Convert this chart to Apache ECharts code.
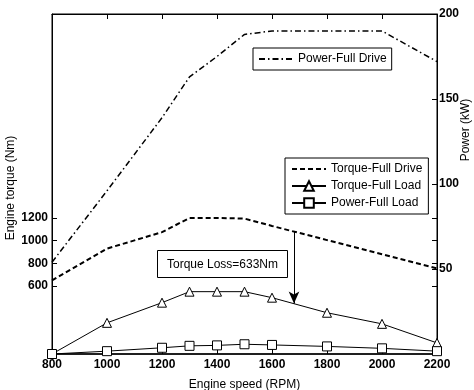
<!DOCTYPE html>
<html>
<head>
<meta charset="utf-8">
<script src="https://cdn.jsdelivr.net/npm/echarts@6/dist/echarts.min.js"></script>
<style>html,body{margin:0;padding:0;background:#fff}#c{width:474px;height:390px}</style>
</head>
<body>
<div id="c"></div>
<script>
var rpm = [800, 1000, 1200, 1300, 1400, 1500, 1600, 1800, 2000, 2200];
var powerFullDrive = [54, 96, 139, 163, 175, 188, 190, 190, 190, 172];
var torqueFullDrive = [650, 930, 1075, 1200, 1200, 1195, 1130, 1005, 880, 755];
var torqueFullLoad = [0, 275, 453, 550, 550, 550, 497, 364, 266, 98];
var powerFullLoad = [0, 25, 55, 72, 76, 86, 80, 67, 50, 25];
var torqueTicks = [600, 800, 1000, 1200];
var powerTicks = [50, 100, 150, 200];
var lossRpm = 1680, lossTop = 1085, lossBottom = 445;
var lossText = 'Torque Loss=633Nm';

function pairs(v) { return rpm.map(function (x, i) { return [x, v[i]]; }); }
function plain(v) { return String(v); }

var FONT = '"Liberation Sans Narrow", "Liberation Sans", Arial, sans-serif';
var FONT2 = '"Liberation Sans", Arial, sans-serif';
var noSym = { color: 'rgba(0,0,0,0)', borderWidth: 0 };
var chart = echarts.init(document.getElementById('c'));
chart.setOption({
  animation: false,
  backgroundColor: '#fff',
  grid: { left: 52, right: 37, top: 14, bottom: 36, containLabel: false, outerBoundsMode: 'none',
          show: true, borderColor: '#000', borderWidth: 1, backgroundColor: 'rgba(0,0,0,0)' },
  xAxis: [{
    type: 'value', min: 800, max: 2200, interval: 200, position: 'bottom',
    name: 'Engine speed (RPM)', nameLocation: 'middle', nameGap: 25, nameMoveOverlap: false,
    nameTextStyle: { color: '#000', fontSize: 12, fontFamily: FONT2 },
    axisLine: { show: true, onZero: false, lineStyle: { color: '#000', width: 1.5 } },
    axisTick: { show: true, inside: true, length: 5, lineStyle: { color: '#000' } },
    axisLabel: { color: '#000', fontSize: 12, fontFamily: FONT, fontWeight: 'bold', margin: 5, formatter: plain },
    splitLine: { show: false }
  }, {
    type: 'value', min: 800, max: 2200, interval: 200, position: 'top',
    axisLine: { show: true, onZero: false, lineStyle: { color: '#000' } },
    axisTick: { show: true, inside: true, length: 5, lineStyle: { color: '#000' } },
    axisLabel: { show: false }, splitLine: { show: false }
  }],
  yAxis: [{
    type: 'value', min: 0, max: 3000, position: 'left',
    axisLine: { show: true, onZero: false, lineStyle: { color: '#000' } },
    axisTick: { show: true, inside: true, length: 5, customValues: torqueTicks, lineStyle: { color: '#000' } },
    axisLabel: { color: '#000', fontSize: 12, fontFamily: FONT, fontWeight: 'bold', margin: 4, customValues: torqueTicks, formatter: plain },
    splitLine: { show: false }
  }, {
    type: 'value', min: 0, max: 200, interval: 50, position: 'right',
    axisLine: { show: true, onZero: false, lineStyle: { color: '#000' } },
    axisTick: { show: true, inside: true, length: 5, customValues: powerTicks, lineStyle: { color: '#000' } },
    axisLabel: { color: '#000', fontSize: 12, fontFamily: FONT, fontWeight: 'bold', margin: 2, customValues: powerTicks, formatter: plain },
    splitLine: { show: false }
  }, {
    type: 'value', min: 0, max: 3000, position: 'right',
    axisLine: { show: false },
    axisTick: { show: true, inside: true, length: 5, customValues: torqueTicks, lineStyle: { color: '#000' } },
    axisLabel: { show: false }, splitLine: { show: false }
  }],
  legend: [{
    data: [{ name: 'Power-Full Drive', itemStyle: noSym }],
    left: 253, top: 48, orient: 'vertical',
    padding: [5, 5], itemWidth: 34, itemHeight: 12, itemGap: 5,
    borderColor: '#000', borderWidth: 1, backgroundColor: '#fff',
    textStyle: { color: '#000', fontSize: 12, fontFamily: FONT2 }
  }, {
    data: [{ name: 'Torque-Full Drive', itemStyle: noSym }, 'Torque-Full Load', 'Power-Full Load'],
    left: 285, top: 158, orient: 'vertical',
    padding: [5, 6], itemWidth: 34, itemHeight: 12, itemGap: 5,
    borderColor: '#000', borderWidth: 1, backgroundColor: '#fff',
    textStyle: { color: '#000', fontSize: 12, fontFamily: FONT2 }
  }],
  graphic: [{
    type: 'group', left: 157, top: 250,
    children: [{
      type: 'rect', shape: { x: 0, y: 0, width: 130, height: 27 },
      style: { fill: '#fff', stroke: '#000', lineWidth: 1 }
    }, {
      type: 'text', x: 65, y: 14,
      style: { text: lossText, fill: '#000', fontSize: 12, fontFamily: FONT2, align: 'center', verticalAlign: 'middle' }
    }]
  }, {
    type: 'text', x: 466, y: 130, rotation: Math.PI / 2,
    style: { text: 'Power (kW)', fill: '#000', fontSize: 12, fontFamily: FONT2, align: 'center', verticalAlign: 'middle' }
  }, {
    type: 'text', x: 11, y: 188, rotation: Math.PI / 2,
    style: { text: 'Engine torque (Nm)', fill: '#000', fontSize: 12, fontFamily: FONT2, align: 'center', verticalAlign: 'middle' }
  }],
  series: [{
    name: 'Power-Full Drive', type: 'line', xAxisIndex: 1, yAxisIndex: 1, data: pairs(powerFullDrive),
    symbol: 'none', lineStyle: { color: '#000', width: 1.5, type: [6, 3, 1.5, 3] }, itemStyle: { color: '#000' }
  }, {
    name: 'Torque-Full Drive', type: 'line', yAxisIndex: 0, data: pairs(torqueFullDrive),
    symbol: 'none', lineStyle: { color: '#000', width: 2, type: [5, 3] }, itemStyle: { color: '#000' },
    markLine: {
      silent: true, symbol: ['none', 'arrow'], symbolSize: [8, 12],
      lineStyle: { color: '#000', width: 1, type: 'solid' }, label: { show: false },
      data: [[{ coord: [lossRpm, lossTop] }, { coord: [lossRpm, lossBottom] }]]
    }
  }, {
    name: 'Torque-Full Load', type: 'line', yAxisIndex: 0, data: pairs(torqueFullLoad),
    symbol: 'triangle', symbolSize: 9, showAllSymbol: true,
    lineStyle: { color: '#000', width: 1 }, itemStyle: { color: '#fff', borderColor: '#000', borderWidth: 1 }
  }, {
    name: 'Power-Full Load', type: 'line', yAxisIndex: 0, data: pairs(powerFullLoad),
    symbol: 'rect', symbolSize: 9, showAllSymbol: true,
    lineStyle: { color: '#000', width: 1 }, itemStyle: { color: '#fff', borderColor: '#000', borderWidth: 1 }
  }]
});
</script>
</body>
</html>
